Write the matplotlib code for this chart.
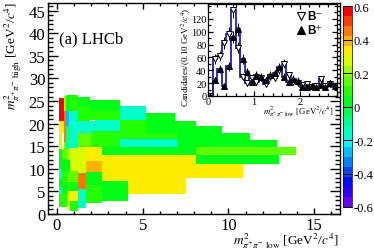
import colorsys
import numpy as np
import matplotlib
matplotlib.use("Agg")
import matplotlib.pyplot as plt
from matplotlib.colors import ListedColormap, BoundaryNorm
from matplotlib.cm import ScalarMappable

plt.rcParams['font.family'] = ['Liberation Serif', 'DejaVu Serif']
plt.rcParams['mathtext.fontset'] = 'stix'

cell_x0 = [.1,.1,.1,.43,.43,.43,.55,.55,.55,.68,.68,.1,.1,.1,.1,.1,.29,.29,.29,.29,.58,.58,.58,.58,.58,.58,
           .74,.74,.74,.74,.74,1.22,1.22,1.22,1.7,1.7,1.7,1.7,1.22,1.93,1.22,1.93,1.22,2.2,1.22,2.0,3.66,3.66,
           5.2,5.2,5.2,3.66,3.66,6.97,6.97,2.63,8.13,8.13,2.63,2.63,2.63,4.14,2.63]
cell_x1 = [.43,.43,.29,.55,.55,.58,.68,.68,.68,1.22,1.22,.29,.29,.29,.29,.58,.58,.58,.58,.58,.74,.74,.74,.74,.74,.74,
           1.22,1.22,1.22,1.22,1.22,1.7,1.7,1.7,2.63,2.63,2.63,2.63,1.93,3.66,1.93,3.66,2.2,3.66,2.0,3.66,5.2,5.2,
           6.9,8.13,9.6,6.97,6.97,11.24,12.8,8.13,13.95,12.95,8.13,10.85,4.14,7.55,4.14]
cell_y0 = [20.5,17.9,14.3,22.75,16,14.3,22.75,19.5,14.3,22.75,14.7,9.9,7.7,5.9,4.4,1.5,12.1,9.5,7,4.4,12,9.5,7,5,2,.8,
           9.5,7,5.1,2.9,.7,9,5.5,1.25,11.7,9.2,6.45,2.4,23.8,22.75,20.6,20.7,17.95,18.35,14.9,14.8,20.7,18,
           20.55,19.45,18,16.5,14.8,16.3,14.8,13,13.1,11,11,7.9,7.3,4.4,2.8]
cell_y1 = [25.7,20.5,17.9,26.2,22.75,16,26.3,22.75,19.5,26.3,22.75,14.3,9.9,7.7,5.9,4.4,14.3,12.1,9.5,7,14.3,12,9.5,7,5,2,
           14.7,9.5,7,5.1,2.9,14.9,9,5.5,14.9,11.7,9.2,6.45,26,25.3,23.8,22.75,20.6,20.7,17.95,18.35,23.85,20.7,
           22.4,20.55,19.45,18,16.5,18,16.3,14.8,14.8,13.1,13,11,7.9,7.9,7.3]
cell_v = [.58,.33,.25,.22,.45,.12,.04,-.3,-.12,.06,-.15,.02,-.15,.04,-.18,.08,.12,.02,.06,.02,.2,.03,.12,.06,.24,.32,
          .26,.15,.0,.32,.06,.26,.46,-.15,.33,.42,.02,.06,.05,.0,.09,.09,-.14,-.14,.14,.06,-.15,.09,
          .05,.05,.0,.09,-.14,.0,.03,.03,.14,.03,.33,.33,.33,.33,.02]

m_centers = np.arange(0.05, 2.8, 0.1)
bminus = [0,58,62,82,97,133,75,30,20,28,22,28,18,30,28,40,50,32,22,20,17,18,14,15,26,15,18,14]
bplus = [0,25,42,15,46,92,104,58,38,22,33,30,25,33,35,45,30,22,27,24,14,14,15,14,17,14,20,15]

main_xticks = [0, 5, 10, 15]
main_yticks = [0, 5, 10, 15, 20, 25, 30, 35, 40, 45]
cbar_ticks = [-0.6, -0.4, -0.2, 0, 0.2, 0.4, 0.6]

W, H = 374, 253
fig = plt.figure(figsize=(W/100, H/100), dpi=100)

def rect(l, t, r, b):
    return [l/W, 1-b/H, (r-l)/W, (b-t)/H]

ax = fig.add_axes(rect(48, 4, 340, 215))
ax.set_xlim(-0.52, 16.5)
ax.set_ylim(0, 46.7)

levels = np.linspace(-0.6, 0.6, 21)
cols = [colorsys.hsv_to_rgb((265*(1-i/19))/360, 1, 1) for i in range(20)]
cmap = ListedColormap(cols)
norm = BoundaryNorm(levels, cmap.N)

x0 = np.array(cell_x0); x1 = np.array(cell_x1)
y0 = np.array(cell_y0); y1 = np.array(cell_y1)
ax.bar(x0, y1-y0, width=x1-x0, bottom=y0, align='edge',
       color=cmap(norm(cell_v)), linewidth=0, antialiased=False)

def style(a, lw, fs, length, pad):
    a.tick_params(which='both', direction='in', top=True, right=True, width=lw,
                  labelsize=fs, pad=pad)
    a.tick_params(which='major', length=length)
    a.tick_params(which='minor', length=length*0.55)
    for s in a.spines.values():
        s.set_linewidth(lw)

ax.set_xticks(main_xticks)
ax.set_yticks(main_yticks)
ax.set_xticks(np.arange(0, 16.5, 1), minor=True)
ax.set_yticks(np.arange(0, 46.7, 1), minor=True)
style(ax, 1.0, 12, 6, 2)
ax.tick_params(axis='y', which='major', length=7)
ax.tick_params(axis='y', which='minor', length=3.5)
ax.tick_params(axis='x', which='major', length=4.5)
ax.tick_params(axis='x', which='minor', length=2.5)
ax.text(0.15, 38.9, '(a) LHCb', fontsize=12, va='center')
fig.text(339/W, 1-241/H, r'$m^2_{\pi^{+}\pi^{-}\ \mathrm{low}}$ [GeV$^2$/$c^4$]', fontsize=9.5,
         ha='right', va='center')
fig.text(13/W, 1-56/H, r'$m^2_{\pi^{+}\pi^{-}\ \mathrm{high}}$ [GeV$^2$/$c^4$]', fontsize=9.5,
         rotation=90, ha='center', va='center')

cax = fig.add_axes(rect(343, 7, 352, 208))
cb = fig.colorbar(ScalarMappable(norm=norm, cmap=cmap), cax=cax, ticks=cbar_ticks,
                  spacing='proportional', drawedges=False)
cb.ax.set_yticklabels(['-0.6', '-0.4', '-0.2', '0', '0.2', '0.4', '0.6'])
cb.outline.set_linewidth(0.5)
cb.ax.tick_params(direction='in', length=6.5, width=0.7, labelsize=9, pad=1, color='black')
cb.ax.minorticks_off()

ins = fig.add_axes(rect(208, 5, 337, 97))
ins.set_facecolor('white')
ins.set_xlim(0, 2.8)
ins.set_ylim(0, 143)
edges = np.r_[m_centers-0.05, m_centers[-1]+0.05]
ins.stairs(bminus, edges, color='#2020b0', lw=1.3, baseline=None)
ins.stairs(bplus, edges, color='#2020b0', lw=1.3, baseline=None)
ins.errorbar(m_centers, bminus, yerr=np.sqrt(bminus), fmt='v', mfc='white', mec='black', ecolor='black',
             ms=5, mew=0.7, elinewidth=0.7)
ins.errorbar(m_centers, bplus, yerr=np.sqrt(bplus), fmt='^', mfc='black', mec='black', ecolor='black',
             ms=5, mew=0.7, elinewidth=0.7)
ins.set_xticks([0, 1, 2])
ins.set_yticks([0, 20, 40, 60, 80, 100, 120])
ins.set_xticks(np.arange(0, 2.81, 0.2), minor=True)
ins.set_yticks(np.arange(0, 141, 10), minor=True)
style(ins, 0.9, 7.5, 3.5, 1)
ins.plot([2.02], [125], 'v', mfc='white', mec='black', ms=6, mew=0.8)
ins.text(2.14, 125, r'B$^{-}$', fontsize=8.5, fontweight='bold', family='Liberation Sans', va='center')
ins.plot([2.02], [102], '^', mfc='black', mec='black', ms=6, mew=0.8)
ins.text(2.14, 102, r'B$^{+}$', fontsize=8.5, fontweight='bold', family='Liberation Sans', va='center')
fig.text(186/W, 1-57/H, r'Candidates/(0.10 GeV$^2$/$c^4$)', fontsize=6.5, rotation=90, ha='center', va='center')
fig.text(263/W, 1-112/H, r'$m^2_{\pi^{+}\pi^{-}\ \mathrm{low}}$ [GeV$^2$/$c^4$]', fontsize=6.3,
         ha='left', va='center')

fig.savefig('out.png', dpi=100)
